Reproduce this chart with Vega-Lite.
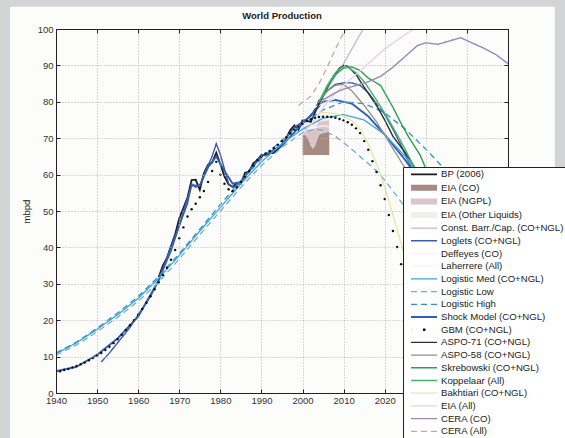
{
  "$schema": "https://vega.github.io/schema/vega-lite/v6.json",
  "width": 452,
  "height": 364,
  "autosize": {"type": "none"},
  "padding": {"left": 56, "top": 29, "right": 57, "bottom": 45},
  "background": "#d3d4d6",
  "title": {"text": "World Production", "font": "Liberation Sans", "fontSize": 9.5, "fontWeight": "bold", "color": "#222", "offset": 0, "dy": 14},
  "config": {"view": {"stroke": null}, "legend": {"orient": "none", "legendX": 347, "legendY": 138, "title": null, "padding": 2.5, "fillColor": "#ffffff", "strokeColor": "#222", "labelFont": "Liberation Sans", "labelFontSize": 9.6, "labelColor": "#222", "labelOffset": 10.5, "labelLimit": 400, "symbolType": "M-4,0H4", "symbolSize": 42.25, "symbolOffset": 12, "rowPadding": 1.7}},
  "datasets": {
    "lines": [
      {"s":"BP (2006)","x":1965,"y":31.8},{"s":"BP (2006)","x":1966,"y":35},{"s":"BP (2006)","x":1967,"y":37.1},{"s":"BP (2006)","x":1968,"y":40.4},{"s":"BP (2006)","x":1969,"y":43.6},{"s":"BP (2006)","x":1970,"y":48},{"s":"BP (2006)","x":1971,"y":50.8},{"s":"BP (2006)","x":1972,"y":53.7},{"s":"BP (2006)","x":1973,"y":58.5},{"s":"BP (2006)","x":1974,"y":58.6},{"s":"BP (2006)","x":1975,"y":55.8},{"s":"BP (2006)","x":1976,"y":60.4},{"s":"BP (2006)","x":1977,"y":62.7},{"s":"BP (2006)","x":1978,"y":63.3},{"s":"BP (2006)","x":1979,"y":66},{"s":"BP (2006)","x":1980,"y":62.9},{"s":"BP (2006)","x":1981,"y":59.5},{"s":"BP (2006)","x":1982,"y":57.3},{"s":"BP (2006)","x":1983,"y":56.6},{"s":"BP (2006)","x":1984,"y":57.7},{"s":"BP (2006)","x":1985,"y":57.5},{"s":"BP (2006)","x":1986,"y":60.5},{"s":"BP (2006)","x":1987,"y":60.8},{"s":"BP (2006)","x":1988,"y":63.1},{"s":"BP (2006)","x":1989,"y":64},{"s":"BP (2006)","x":1990,"y":65.4},{"s":"BP (2006)","x":1991,"y":65.3},{"s":"BP (2006)","x":1992,"y":65.8},{"s":"BP (2006)","x":1993,"y":66},{"s":"BP (2006)","x":1994,"y":67},{"s":"BP (2006)","x":1995,"y":68},{"s":"BP (2006)","x":1996,"y":69.9},{"s":"BP (2006)","x":1997,"y":72.2},{"s":"BP (2006)","x":1998,"y":73.5},{"s":"BP (2006)","x":1999,"y":72.3},{"s":"BP (2006)","x":2000,"y":74.9},{"s":"BP (2006)","x":2001,"y":74.8},{"s":"BP (2006)","x":2002,"y":74.5},{"s":"BP (2006)","x":2003,"y":77},{"s":"BP (2006)","x":2004,"y":80.3},{"s":"BP (2006)","x":2005,"y":81.1},

      {"s":"Shock Model (CO+NGL)","x":1940,"y":6},{"s":"Shock Model (CO+NGL)","x":1945,"y":7.2},{"s":"Shock Model (CO+NGL)","x":1950,"y":10.5},{"s":"Shock Model (CO+NGL)","x":1955,"y":15},{"s":"Shock Model (CO+NGL)","x":1960,"y":21},{"s":"Shock Model (CO+NGL)","x":1965,"y":31},{"s":"Shock Model (CO+NGL)","x":1970,"y":46},{"s":"Shock Model (CO+NGL)","x":1973,"y":57},{"s":"Shock Model (CO+NGL)","x":1975,"y":57},{"s":"Shock Model (CO+NGL)","x":1977,"y":62},{"s":"Shock Model (CO+NGL)","x":1979,"y":65},{"s":"Shock Model (CO+NGL)","x":1981,"y":61},{"s":"Shock Model (CO+NGL)","x":1983,"y":57.5},{"s":"Shock Model (CO+NGL)","x":1985,"y":58},{"s":"Shock Model (CO+NGL)","x":1988,"y":62.5},{"s":"Shock Model (CO+NGL)","x":1990,"y":65},{"s":"Shock Model (CO+NGL)","x":1995,"y":68},{"s":"Shock Model (CO+NGL)","x":2000,"y":74},{"s":"Shock Model (CO+NGL)","x":2003,"y":77.5},{"s":"Shock Model (CO+NGL)","x":2005,"y":80},{"s":"Shock Model (CO+NGL)","x":2008,"y":80.5},{"s":"Shock Model (CO+NGL)","x":2012,"y":79.5},{"s":"Shock Model (CO+NGL)","x":2016,"y":76},{"s":"Shock Model (CO+NGL)","x":2020,"y":71},{"s":"Shock Model (CO+NGL)","x":2025,"y":64},{"s":"Shock Model (CO+NGL)","x":2030,"y":56},{"s":"Shock Model (CO+NGL)","x":2035,"y":48},

      {"s":"Const. Barr./Cap. (CO+NGL)","x":2004,"y":80},{"s":"Const. Barr./Cap. (CO+NGL)","x":2006,"y":83.5},{"s":"Const. Barr./Cap. (CO+NGL)","x":2008,"y":87},{"s":"Const. Barr./Cap. (CO+NGL)","x":2010,"y":90.5},{"s":"Const. Barr./Cap. (CO+NGL)","x":2012,"y":94.5},{"s":"Const. Barr./Cap. (CO+NGL)","x":2014,"y":98.5},{"s":"Const. Barr./Cap. (CO+NGL)","x":2016,"y":102.5},

      {"s":"Loglets (CO+NGL)","x":1951,"y":8.5},{"s":"Loglets (CO+NGL)","x":1953,"y":11},{"s":"Loglets (CO+NGL)","x":1955,"y":13.8},{"s":"Loglets (CO+NGL)","x":1958,"y":18},{"s":"Loglets (CO+NGL)","x":1960,"y":21.5},{"s":"Loglets (CO+NGL)","x":1963,"y":26.5},{"s":"Loglets (CO+NGL)","x":1965,"y":31},{"s":"Loglets (CO+NGL)","x":1968,"y":39},{"s":"Loglets (CO+NGL)","x":1970,"y":46},{"s":"Loglets (CO+NGL)","x":1972,"y":52},{"s":"Loglets (CO+NGL)","x":1973,"y":57.5},{"s":"Loglets (CO+NGL)","x":1974,"y":56.5},{"s":"Loglets (CO+NGL)","x":1975,"y":57},{"s":"Loglets (CO+NGL)","x":1976,"y":60},{"s":"Loglets (CO+NGL)","x":1977,"y":62.5},{"s":"Loglets (CO+NGL)","x":1978,"y":65},{"s":"Loglets (CO+NGL)","x":1979,"y":68.5},{"s":"Loglets (CO+NGL)","x":1980,"y":65.5},{"s":"Loglets (CO+NGL)","x":1981,"y":61.5},{"s":"Loglets (CO+NGL)","x":1982,"y":57.5},{"s":"Loglets (CO+NGL)","x":1983,"y":56.5},{"s":"Loglets (CO+NGL)","x":1984,"y":57},{"s":"Loglets (CO+NGL)","x":1985,"y":57.8},{"s":"Loglets (CO+NGL)","x":1987,"y":61},{"s":"Loglets (CO+NGL)","x":1990,"y":65.3},{"s":"Loglets (CO+NGL)","x":1993,"y":66.5},{"s":"Loglets (CO+NGL)","x":1995,"y":68.5},{"s":"Loglets (CO+NGL)","x":1998,"y":73},{"s":"Loglets (CO+NGL)","x":2000,"y":74.5},{"s":"Loglets (CO+NGL)","x":2002,"y":76},{"s":"Loglets (CO+NGL)","x":2004,"y":80},{"s":"Loglets (CO+NGL)","x":2006,"y":83},{"s":"Loglets (CO+NGL)","x":2008,"y":84.8},{"s":"Loglets (CO+NGL)","x":2010,"y":85.2},{"s":"Loglets (CO+NGL)","x":2012,"y":85.2},{"s":"Loglets (CO+NGL)","x":2014,"y":84.5},{"s":"Loglets (CO+NGL)","x":2016,"y":82.5},{"s":"Loglets (CO+NGL)","x":2018,"y":79.5},{"s":"Loglets (CO+NGL)","x":2020,"y":76.5},{"s":"Loglets (CO+NGL)","x":2022,"y":72.5},{"s":"Loglets (CO+NGL)","x":2024,"y":68},{"s":"Loglets (CO+NGL)","x":2026,"y":63},{"s":"Loglets (CO+NGL)","x":2030,"y":53},{"s":"Loglets (CO+NGL)","x":2035,"y":41},

      {"s":"Deffeyes (CO)","x":2000,"y":72},{"s":"Deffeyes (CO)","x":2005,"y":73.5},{"s":"Deffeyes (CO)","x":2010,"y":72},{"s":"Deffeyes (CO)","x":2020,"y":62},
      {"s":"Laherrere (All)","x":2000,"y":77},{"s":"Laherrere (All)","x":2010,"y":82},{"s":"Laherrere (All)","x":2020,"y":78},

      {"s":"Logistic Med (CO+NGL)","x":1940,"y":10.8},{"s":"Logistic Med (CO+NGL)","x":1945,"y":13.8},{"s":"Logistic Med (CO+NGL)","x":1950,"y":17.5},{"s":"Logistic Med (CO+NGL)","x":1955,"y":21.5},{"s":"Logistic Med (CO+NGL)","x":1960,"y":26},{"s":"Logistic Med (CO+NGL)","x":1965,"y":31.5},{"s":"Logistic Med (CO+NGL)","x":1970,"y":37.8},{"s":"Logistic Med (CO+NGL)","x":1975,"y":44.5},{"s":"Logistic Med (CO+NGL)","x":1980,"y":51},{"s":"Logistic Med (CO+NGL)","x":1985,"y":57.5},{"s":"Logistic Med (CO+NGL)","x":1990,"y":63.5},{"s":"Logistic Med (CO+NGL)","x":1995,"y":68.5},{"s":"Logistic Med (CO+NGL)","x":2000,"y":72.5},{"s":"Logistic Med (CO+NGL)","x":2005,"y":75.5},{"s":"Logistic Med (CO+NGL)","x":2010,"y":76.5},{"s":"Logistic Med (CO+NGL)","x":2015,"y":75},{"s":"Logistic Med (CO+NGL)","x":2020,"y":71},{"s":"Logistic Med (CO+NGL)","x":2025,"y":65},{"s":"Logistic Med (CO+NGL)","x":2030,"y":57},{"s":"Logistic Med (CO+NGL)","x":2035,"y":49},{"s":"Logistic Med (CO+NGL)","x":2040,"y":41},

      {"s":"Logistic Low","x":1940,"y":10.4},{"s":"Logistic Low","x":1945,"y":13.2},{"s":"Logistic Low","x":1950,"y":16.8},{"s":"Logistic Low","x":1955,"y":20.8},{"s":"Logistic Low","x":1960,"y":25.2},{"s":"Logistic Low","x":1965,"y":30.5},{"s":"Logistic Low","x":1970,"y":36.8},{"s":"Logistic Low","x":1975,"y":43.5},{"s":"Logistic Low","x":1980,"y":50},{"s":"Logistic Low","x":1985,"y":56.5},{"s":"Logistic Low","x":1990,"y":62.5},{"s":"Logistic Low","x":1995,"y":67.5},{"s":"Logistic Low","x":2000,"y":71.5},{"s":"Logistic Low","x":2003,"y":72.5},{"s":"Logistic Low","x":2005,"y":72.2},{"s":"Logistic Low","x":2008,"y":70.5},{"s":"Logistic Low","x":2010,"y":68.8},{"s":"Logistic Low","x":2013,"y":66},{"s":"Logistic Low","x":2015,"y":64},{"s":"Logistic Low","x":2018,"y":61},{"s":"Logistic Low","x":2020,"y":58.5},{"s":"Logistic Low","x":2023,"y":54},{"s":"Logistic Low","x":2025,"y":51},{"s":"Logistic Low","x":2030,"y":43},{"s":"Logistic Low","x":2035,"y":35},

      {"s":"Logistic High","x":1940,"y":11},{"s":"Logistic High","x":1945,"y":14},{"s":"Logistic High","x":1950,"y":17.8},{"s":"Logistic High","x":1955,"y":22},{"s":"Logistic High","x":1960,"y":26.5},{"s":"Logistic High","x":1965,"y":32},{"s":"Logistic High","x":1970,"y":38.3},{"s":"Logistic High","x":1975,"y":45},{"s":"Logistic High","x":1980,"y":51.8},{"s":"Logistic High","x":1985,"y":58.3},{"s":"Logistic High","x":1990,"y":64.3},{"s":"Logistic High","x":1995,"y":69.5},{"s":"Logistic High","x":2000,"y":74},{"s":"Logistic High","x":2005,"y":77.8},{"s":"Logistic High","x":2010,"y":80},{"s":"Logistic High","x":2015,"y":79.5},{"s":"Logistic High","x":2020,"y":77},{"s":"Logistic High","x":2025,"y":72.5},{"s":"Logistic High","x":2030,"y":67},{"s":"Logistic High","x":2035,"y":61},{"s":"Logistic High","x":2040,"y":54},

      {"s":"ASPO-71 (CO+NGL)","x":2003,"y":77},{"s":"ASPO-71 (CO+NGL)","x":2005,"y":81.5},{"s":"ASPO-71 (CO+NGL)","x":2007,"y":86},{"s":"ASPO-71 (CO+NGL)","x":2009,"y":89.3},{"s":"ASPO-71 (CO+NGL)","x":2010,"y":90},{"s":"ASPO-71 (CO+NGL)","x":2011,"y":89.8},{"s":"ASPO-71 (CO+NGL)","x":2013,"y":87.5},{"s":"ASPO-71 (CO+NGL)","x":2015,"y":84},{"s":"ASPO-71 (CO+NGL)","x":2018,"y":79},{"s":"ASPO-71 (CO+NGL)","x":2020,"y":75},{"s":"ASPO-71 (CO+NGL)","x":2022,"y":70.5},{"s":"ASPO-71 (CO+NGL)","x":2025,"y":66},{"s":"ASPO-71 (CO+NGL)","x":2027,"y":62.5},{"s":"ASPO-71 (CO+NGL)","x":2030,"y":56},{"s":"ASPO-71 (CO+NGL)","x":2035,"y":46},{"s":"ASPO-71 (CO+NGL)","x":2040,"y":36},

      {"s":"ASPO-58 (CO+NGL)","x":2004,"y":80},{"s":"ASPO-58 (CO+NGL)","x":2006,"y":83},{"s":"ASPO-58 (CO+NGL)","x":2008,"y":84.5},{"s":"ASPO-58 (CO+NGL)","x":2010,"y":84.8},{"s":"ASPO-58 (CO+NGL)","x":2012,"y":83},{"s":"ASPO-58 (CO+NGL)","x":2015,"y":79},{"s":"ASPO-58 (CO+NGL)","x":2018,"y":74.5},{"s":"ASPO-58 (CO+NGL)","x":2021,"y":69},{"s":"ASPO-58 (CO+NGL)","x":2024,"y":63.5},{"s":"ASPO-58 (CO+NGL)","x":2027,"y":58},{"s":"ASPO-58 (CO+NGL)","x":2030,"y":52},

      {"s":"Skrebowski (CO+NGL)","x":2004,"y":80},{"s":"Skrebowski (CO+NGL)","x":2006,"y":84},{"s":"Skrebowski (CO+NGL)","x":2008,"y":87.5},{"s":"Skrebowski (CO+NGL)","x":2010,"y":89.3},{"s":"Skrebowski (CO+NGL)","x":2012,"y":89.6},{"s":"Skrebowski (CO+NGL)","x":2014,"y":88.6},{"s":"Skrebowski (CO+NGL)","x":2016,"y":86.5},{"s":"Skrebowski (CO+NGL)","x":2019,"y":84.5},{"s":"Skrebowski (CO+NGL)","x":2022,"y":78.5},{"s":"Skrebowski (CO+NGL)","x":2024,"y":74},{"s":"Skrebowski (CO+NGL)","x":2026,"y":70},{"s":"Skrebowski (CO+NGL)","x":2028.6,"y":65.4},{"s":"Skrebowski (CO+NGL)","x":2031,"y":59},{"s":"Skrebowski (CO+NGL)","x":2034,"y":50},{"s":"Skrebowski (CO+NGL)","x":2037,"y":41},

      {"s":"Koppelaar (All)","x":2004,"y":80},{"s":"Koppelaar (All)","x":2006,"y":84.5},{"s":"Koppelaar (All)","x":2008,"y":88},{"s":"Koppelaar (All)","x":2009.5,"y":89.5},{"s":"Koppelaar (All)","x":2011,"y":89.5},{"s":"Koppelaar (All)","x":2013,"y":88},{"s":"Koppelaar (All)","x":2015,"y":85.5},{"s":"Koppelaar (All)","x":2018,"y":80.5},{"s":"Koppelaar (All)","x":2021,"y":75},{"s":"Koppelaar (All)","x":2024,"y":69},{"s":"Koppelaar (All)","x":2027,"y":62.5},{"s":"Koppelaar (All)","x":2030,"y":55},

      {"s":"Bakhtiari (CO+NGL)","x":2004,"y":77},{"s":"Bakhtiari (CO+NGL)","x":2006,"y":77},{"s":"Bakhtiari (CO+NGL)","x":2008,"y":76.8},{"s":"Bakhtiari (CO+NGL)","x":2010,"y":76},{"s":"Bakhtiari (CO+NGL)","x":2012,"y":74.8},{"s":"Bakhtiari (CO+NGL)","x":2014,"y":72.5},{"s":"Bakhtiari (CO+NGL)","x":2016,"y":68.5},{"s":"Bakhtiari (CO+NGL)","x":2018,"y":63},{"s":"Bakhtiari (CO+NGL)","x":2020,"y":56.5},{"s":"Bakhtiari (CO+NGL)","x":2022,"y":49},{"s":"Bakhtiari (CO+NGL)","x":2024,"y":41},{"s":"Bakhtiari (CO+NGL)","x":2026,"y":32},

      {"s":"EIA (All)","x":2000,"y":71},{"s":"EIA (All)","x":2003,"y":75},{"s":"EIA (All)","x":2006,"y":80},{"s":"EIA (All)","x":2010,"y":84.5},{"s":"EIA (All)","x":2015,"y":89.5},{"s":"EIA (All)","x":2020,"y":94.5},{"s":"EIA (All)","x":2025,"y":98.5},{"s":"EIA (All)","x":2030,"y":102},

      {"s":"CERA (CO)","x":2005,"y":80.5},{"s":"CERA (CO)","x":2008,"y":82.5},{"s":"CERA (CO)","x":2010,"y":83.5},{"s":"CERA (CO)","x":2013,"y":84.5},{"s":"CERA (CO)","x":2016,"y":85.5},{"s":"CERA (CO)","x":2019,"y":87},{"s":"CERA (CO)","x":2022,"y":89.5},{"s":"CERA (CO)","x":2025,"y":92.5},{"s":"CERA (CO)","x":2028,"y":95.5},{"s":"CERA (CO)","x":2030,"y":96.2},{"s":"CERA (CO)","x":2033,"y":95.8},{"s":"CERA (CO)","x":2036,"y":96.8},{"s":"CERA (CO)","x":2038.5,"y":97.6},{"s":"CERA (CO)","x":2041,"y":96.3},{"s":"CERA (CO)","x":2044,"y":94.8},{"s":"CERA (CO)","x":2047,"y":93},{"s":"CERA (CO)","x":2050,"y":90.5},

      {"s":"CERA (All)","x":1999,"y":79},{"s":"CERA (All)","x":2002,"y":81.5},{"s":"CERA (All)","x":2004,"y":85},{"s":"CERA (All)","x":2006,"y":89.5},{"s":"CERA (All)","x":2008,"y":94.5},{"s":"CERA (All)","x":2010,"y":99},{"s":"CERA (All)","x":2011,"y":101.5}
    ],
    "areas": [
      {"s":"EIA (CO)","x":2000,"top":70.9,"base":65.4},{"s":"EIA (CO)","x":2000.5,"top":71,"base":65.4},{"s":"EIA (CO)","x":2001,"top":70.5,"base":65.4},{"s":"EIA (CO)","x":2001.5,"top":69.5,"base":65.4},{"s":"EIA (CO)","x":2002,"top":68,"base":65.4},{"s":"EIA (CO)","x":2002.5,"top":67.2,"base":65.4},{"s":"EIA (CO)","x":2003,"top":67.8,"base":65.4},{"s":"EIA (CO)","x":2003.5,"top":69.5,"base":65.4},{"s":"EIA (CO)","x":2004,"top":71,"base":65.4},{"s":"EIA (CO)","x":2005,"top":71.4,"base":65.4},{"s":"EIA (CO)","x":2006.5,"top":71.4,"base":65.4},
      {"s":"EIA (NGPL)","x":2000,"top":73,"base":70.9},{"s":"EIA (NGPL)","x":2000.5,"top":73,"base":71},{"s":"EIA (NGPL)","x":2001,"top":72.8,"base":70.5},{"s":"EIA (NGPL)","x":2001.5,"top":72.5,"base":69.5},{"s":"EIA (NGPL)","x":2002,"top":72.5,"base":68},{"s":"EIA (NGPL)","x":2002.5,"top":72.5,"base":67.2},{"s":"EIA (NGPL)","x":2003,"top":73,"base":67.8},{"s":"EIA (NGPL)","x":2003.5,"top":73.5,"base":69.5},{"s":"EIA (NGPL)","x":2004,"top":74.5,"base":71},{"s":"EIA (NGPL)","x":2005,"top":74.8,"base":71.4},{"s":"EIA (NGPL)","x":2006.5,"top":75,"base":71.4},
      {"s":"EIA (Other Liquids)","x":2000,"top":74.5,"base":73},{"s":"EIA (Other Liquids)","x":2003,"top":74.5,"base":73},{"s":"EIA (Other Liquids)","x":2004,"top":76,"base":74.5},{"s":"EIA (Other Liquids)","x":2006.5,"top":76.5,"base":75}
    ],
    "gbm": [
      {"s":"GBM (CO+NGL)","x":1940,"y":5.8},{"s":"GBM (CO+NGL)","x":1941,"y":6},{"s":"GBM (CO+NGL)","x":1942,"y":6.3},{"s":"GBM (CO+NGL)","x":1943,"y":6.6},{"s":"GBM (CO+NGL)","x":1944,"y":7},{"s":"GBM (CO+NGL)","x":1945,"y":7.4},{"s":"GBM (CO+NGL)","x":1946,"y":7.9},{"s":"GBM (CO+NGL)","x":1947,"y":8.4},{"s":"GBM (CO+NGL)","x":1948,"y":9},{"s":"GBM (CO+NGL)","x":1949,"y":9.6},{"s":"GBM (CO+NGL)","x":1950,"y":10.3},{"s":"GBM (CO+NGL)","x":1951,"y":11},{"s":"GBM (CO+NGL)","x":1952,"y":11.8},{"s":"GBM (CO+NGL)","x":1953,"y":12.7},{"s":"GBM (CO+NGL)","x":1954,"y":13.7},{"s":"GBM (CO+NGL)","x":1955,"y":14.8},{"s":"GBM (CO+NGL)","x":1956,"y":16},{"s":"GBM (CO+NGL)","x":1957,"y":17.3},{"s":"GBM (CO+NGL)","x":1958,"y":18.6},{"s":"GBM (CO+NGL)","x":1959,"y":20},{"s":"GBM (CO+NGL)","x":1960,"y":21.5},{"s":"GBM (CO+NGL)","x":1961,"y":23.1},{"s":"GBM (CO+NGL)","x":1962,"y":24.8},{"s":"GBM (CO+NGL)","x":1963,"y":26.6},{"s":"GBM (CO+NGL)","x":1964,"y":28.5},{"s":"GBM (CO+NGL)","x":1965,"y":30.4},{"s":"GBM (CO+NGL)","x":1966,"y":32.4},{"s":"GBM (CO+NGL)","x":1967,"y":34.4},{"s":"GBM (CO+NGL)","x":1968,"y":36.6},{"s":"GBM (CO+NGL)","x":1969,"y":39.3},{"s":"GBM (CO+NGL)","x":1970,"y":42.5},{"s":"GBM (CO+NGL)","x":1971,"y":45.5},{"s":"GBM (CO+NGL)","x":1972,"y":48.5},{"s":"GBM (CO+NGL)","x":1973,"y":50.5},{"s":"GBM (CO+NGL)","x":1974,"y":52},{"s":"GBM (CO+NGL)","x":1975,"y":53.8},{"s":"GBM (CO+NGL)","x":1976,"y":55.5},{"s":"GBM (CO+NGL)","x":1977,"y":58},{"s":"GBM (CO+NGL)","x":1978,"y":61},{"s":"GBM (CO+NGL)","x":1979,"y":63.5},{"s":"GBM (CO+NGL)","x":1980,"y":60},{"s":"GBM (CO+NGL)","x":1981,"y":57.5},{"s":"GBM (CO+NGL)","x":1982,"y":56},{"s":"GBM (CO+NGL)","x":1983,"y":55.5},{"s":"GBM (CO+NGL)","x":1984,"y":56.5},{"s":"GBM (CO+NGL)","x":1985,"y":58},{"s":"GBM (CO+NGL)","x":1986,"y":59.5},{"s":"GBM (CO+NGL)","x":1987,"y":61},{"s":"GBM (CO+NGL)","x":1988,"y":62.5},{"s":"GBM (CO+NGL)","x":1989,"y":64},{"s":"GBM (CO+NGL)","x":1990,"y":65},{"s":"GBM (CO+NGL)","x":1991,"y":65.8},{"s":"GBM (CO+NGL)","x":1992,"y":66.5},{"s":"GBM (CO+NGL)","x":1993,"y":67.3},{"s":"GBM (CO+NGL)","x":1994,"y":68.2},{"s":"GBM (CO+NGL)","x":1995,"y":69.2},{"s":"GBM (CO+NGL)","x":1996,"y":70.2},{"s":"GBM (CO+NGL)","x":1997,"y":71.3},{"s":"GBM (CO+NGL)","x":1998,"y":72.3},{"s":"GBM (CO+NGL)","x":1999,"y":73.2},{"s":"GBM (CO+NGL)","x":2000,"y":74},{"s":"GBM (CO+NGL)","x":2001,"y":74.7},{"s":"GBM (CO+NGL)","x":2002,"y":75.2},{"s":"GBM (CO+NGL)","x":2003,"y":75.6},{"s":"GBM (CO+NGL)","x":2004,"y":75.8},{"s":"GBM (CO+NGL)","x":2005,"y":75.9},{"s":"GBM (CO+NGL)","x":2006,"y":75.9},{"s":"GBM (CO+NGL)","x":2007,"y":75.8},{"s":"GBM (CO+NGL)","x":2008,"y":75.6},{"s":"GBM (CO+NGL)","x":2009,"y":75.3},{"s":"GBM (CO+NGL)","x":2010,"y":74.9},{"s":"GBM (CO+NGL)","x":2011,"y":74.4},{"s":"GBM (CO+NGL)","x":2012,"y":73.7},{"s":"GBM (CO+NGL)","x":2013,"y":72.7},{"s":"GBM (CO+NGL)","x":2014,"y":71.4},{"s":"GBM (CO+NGL)","x":2015,"y":69.2},{"s":"GBM (CO+NGL)","x":2016,"y":66.8},{"s":"GBM (CO+NGL)","x":2017,"y":63.7},{"s":"GBM (CO+NGL)","x":2018,"y":60.7},{"s":"GBM (CO+NGL)","x":2019,"y":57.1},{"s":"GBM (CO+NGL)","x":2020,"y":53.3},{"s":"GBM (CO+NGL)","x":2021,"y":48.9},{"s":"GBM (CO+NGL)","x":2022,"y":44.5},{"s":"GBM (CO+NGL)","x":2023,"y":40.1},{"s":"GBM (CO+NGL)","x":2024,"y":35.4},{"s":"GBM (CO+NGL)","x":2025,"y":30.5},{"s":"GBM (CO+NGL)","x":2026,"y":25.5}
    ]
  },
  "resolve": {"axis": {"x": "independent", "y": "independent"}},
  "layer": [
    {
      "data": {"values": [{}]},
      "mark": {"type": "rect", "clip": false, "color": "#fcfcfb"},
      "encoding": {
        "x": {"datum": 1928.8, "type": "quantitative", "scale": {"domain": [1940, 2050], "nice": false, "zero": false},
          "axis": {"orient": "bottom", "values": [1940,1950,1960,1970,1980,1990,2000,2010,2020,2030,2040,2050], "format": "d", "title": null, "tickSize": -4, "tickColor": "#222", "labelPadding": 6, "labelFont": "Liberation Sans", "labelFontSize": 9.5, "labelColor": "#333", "labelFlush": false, "labelOverlap": false, "domainColor": "#222", "grid": true, "gridDash": [1, 2], "gridColor": "#b8b8b8", "zindex": 1}},
        "x2": {"datum": 2061.4},
        "y": {"datum": 106.1, "type": "quantitative", "scale": {"domain": [0, 100], "nice": false, "zero": false},
          "axis": {"orient": "left", "values": [0,10,20,30,40,50,60,70,80,90,100], "title": "mbpd", "titleFont": "Liberation Sans", "titleFontSize": 9.5, "titleFontWeight": "normal", "titleColor": "#222", "titlePadding": 6, "tickSize": -4, "tickColor": "#222", "labelPadding": 7, "labelFont": "Liberation Sans", "labelFontSize": 9.5, "labelColor": "#333", "labelFlush": false, "labelOverlap": false, "domainColor": "#222", "grid": true, "gridDash": [1, 2], "gridColor": "#b8b8b8", "zindex": 1}},
        "y2": {"datum": -20}
      }
    },
    {
      "data": {"name": "areas"},
      "transform": [{"filter": "datum.s === 'EIA (CO)'"}],
      "mark": {"type": "area", "clip": true, "color": "#a58b82", "opacity": 1},
      "encoding": {
        "x": {"field": "x", "type": "quantitative", "axis": {"orient": "top", "values": [1940,1950,1960,1970,1980,1990,2000,2010,2020,2030,2040,2050], "labels": false, "title": null, "tickSize": -4, "tickColor": "#222", "domainColor": "#222", "grid": false, "zindex": 1}},
        "y": {"field": "top", "type": "quantitative", "axis": {"orient": "right", "values": [0,10,20,30,40,50,60,70,80,90,100], "labels": false, "title": null, "tickSize": -4, "tickColor": "#222", "domainColor": "#222", "grid": false, "zindex": 1}},
        "y2": {"field": "base"}
      }
    },
    {
      "data": {"name": "areas"},
      "transform": [{"filter": "datum.s === 'EIA (NGPL)'"}],
      "mark": {"type": "area", "clip": true, "color": "#dcc5c8", "opacity": 1},
      "encoding": {
        "x": {"field": "x", "type": "quantitative", "axis": null},
        "y": {"field": "top", "type": "quantitative", "axis": null},
        "y2": {"field": "base"}
      }
    },
    {
      "data": {"name": "areas"},
      "transform": [{"filter": "datum.s === 'EIA (Other Liquids)'"}],
      "mark": {"type": "area", "clip": true, "color": "#f3eeee", "opacity": 1},
      "encoding": {
        "x": {"field": "x", "type": "quantitative", "axis": null},
        "y": {"field": "top", "type": "quantitative", "axis": null},
        "y2": {"field": "base"}
      }
    },
    {
      "data": {"name": "lines"},
      "mark": {"type": "line", "clip": true},
      "encoding": {
        "x": {"field": "x", "type": "quantitative", "axis": null},
        "y": {"field": "y", "type": "quantitative", "axis": null},
        "color": {"field": "s", "type": "nominal",
          "scale": {
            "domain": ["BP (2006)","EIA (CO)","EIA (NGPL)","EIA (Other Liquids)","Const. Barr./Cap. (CO+NGL)","Loglets (CO+NGL)","Deffeyes (CO)","Laherrere (All)","Logistic Med (CO+NGL)","Logistic Low","Logistic High","Shock Model (CO+NGL)","GBM (CO+NGL)","ASPO-71 (CO+NGL)","ASPO-58 (CO+NGL)","Skrebowski (CO+NGL)","Koppelaar (All)","Bakhtiari (CO+NGL)","EIA (All)","CERA (CO)","CERA (All)"],
            "range": ["#1a1a1a","#a58b82","#dcc5c8","#f3eeee","#c9b4dc","#3b5ba8","#f4f4f4","#f4f4f4","#3ca6d8","#6aaed6","#2f8fd0","#2f5fb8","#111111","#263333","#909090","#2aa050","#42b46c","#e2eaa8","#e8cfe2","#9d86b8","#c4a8b4"]
          },
          "legend": {"zindex": 2, "encode": {"symbols": {"update": {"strokeJoin": {"value": "bevel"}}}}}
        },
        "strokeDash": {"field": "s", "type": "nominal",
          "scale": {
            "domain": ["BP (2006)","EIA (CO)","EIA (NGPL)","EIA (Other Liquids)","Const. Barr./Cap. (CO+NGL)","Loglets (CO+NGL)","Deffeyes (CO)","Laherrere (All)","Logistic Med (CO+NGL)","Logistic Low","Logistic High","Shock Model (CO+NGL)","GBM (CO+NGL)","ASPO-71 (CO+NGL)","ASPO-58 (CO+NGL)","Skrebowski (CO+NGL)","Koppelaar (All)","Bakhtiari (CO+NGL)","EIA (All)","CERA (CO)","CERA (All)"],
            "range": [[1,0],[1,0],[1,0],[1,0],[1,0],[1,0],[1,0],[1,0],[1,0],[6,4],[6,4],[1,0],[0.1,11.9,2.5,100],[1,0],[1,0],[1,0],[1,0],[1,0],[1,0],[1,0],[6,4]]
          },
          "legend": {"zindex": 2}
        },
        "strokeWidth": {"field": "s", "type": "nominal",
          "scale": {
            "type": "ordinal",
            "domain": ["BP (2006)","EIA (CO)","EIA (NGPL)","EIA (Other Liquids)","Const. Barr./Cap. (CO+NGL)","Loglets (CO+NGL)","Deffeyes (CO)","Laherrere (All)","Logistic Med (CO+NGL)","Logistic Low","Logistic High","Shock Model (CO+NGL)","GBM (CO+NGL)","ASPO-71 (CO+NGL)","ASPO-58 (CO+NGL)","Skrebowski (CO+NGL)","Koppelaar (All)","Bakhtiari (CO+NGL)","EIA (All)","CERA (CO)","CERA (All)"],
            "range": [1.8,6,6,6,1.3,1.4,1.3,1.3,1.3,1.3,1.3,1.9,2.5,1.4,1.3,1.4,1.4,1.3,1.3,1.4,1.3]
          },
          "legend": {"zindex": 2}
        }
      }
    },
    {
      "data": {"name": "gbm"},
      "mark": {"type": "point", "filled": true, "size": 6, "opacity": 1, "clip": true, "color": "#111111"},
      "encoding": {
        "x": {"field": "x", "type": "quantitative", "axis": null},
        "y": {"field": "y", "type": "quantitative", "axis": null}
      }
    }
  ]
}
